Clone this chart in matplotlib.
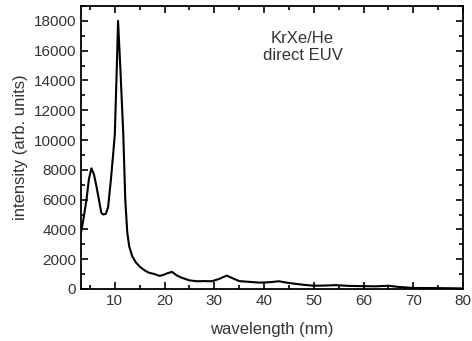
import numpy as np
import matplotlib
matplotlib.use("Agg")
import matplotlib.pyplot as plt
from matplotlib.ticker import MultipleLocator

# spectrum
wavelength = [3.2, 3.7, 4.3, 4.8, 5.3, 5.8, 6.3, 6.8, 7.3, 7.7, 8.2, 8.65, 9.2, 9.6,
              10.0, 10.4, 10.65, 11.1, 11.7, 12.1, 12.5, 12.9, 13.5, 14.2, 15.0, 16.0, 16.8, 18.0,
              19.0, 19.8, 20.5, 21.5, 22.5, 23.5, 25.0, 26.5, 28.0, 29.5, 31.0, 32.5,
              33.5, 35.0, 37.0, 39.0, 41.0, 43.0, 44.5, 46.0, 48.0, 50.0, 52.0, 54.5,
              57.0, 60.0, 62.5, 65.0, 67.0, 70.0, 75.0, 80.0]
intensity = [3800, 4700, 6000, 7400, 8100, 7700, 6900, 6000, 5100, 5000, 5050, 5500, 7300, 8800,
             10400, 14900, 18000, 14900, 10400, 6000, 3800, 2850, 2200, 1800, 1500, 1250, 1100, 1000,
             880, 950, 1050, 1150, 900, 750, 580, 520, 530, 520, 680, 900,
             750, 530, 480, 430, 450, 520, 430, 360, 280, 220, 230, 260,
             210, 190, 180, 220, 140, 70, 60, 40]

plt.rcParams['font.family'] = ['Liberation Sans', 'DejaVu Sans']
txt = '#333333'

fig = plt.figure(figsize=(4.72, 3.41), dpi=100)
ax = fig.add_axes([81/472, 1 - 289/341, (463-81)/472, (289-6)/341])

ax.plot(wavelength, intensity, color='black', lw=1.5)

ax.set_xlim(3.2, 80)
ax.set_ylim(0, 19000)
ax.xaxis.set_major_locator(MultipleLocator(10))
ax.xaxis.set_minor_locator(MultipleLocator(5))
ax.yaxis.set_major_locator(MultipleLocator(2000))
ax.yaxis.set_minor_locator(MultipleLocator(1000))
ax.tick_params(which='both', direction='in', top=True, right=True,
               labelsize=11, labelcolor=txt, width=1.2)
ax.tick_params(which='major', length=5)
ax.tick_params(which='minor', length=3)
ax.set_xticks([10, 20, 30, 40, 50, 60, 70, 80])
for s in ax.spines.values():
    s.set_linewidth(1.3)

ax.set_xlabel('wavelength (nm)', fontsize=12, color=txt, labelpad=10)
ax.set_ylabel('intensity (arb. units)', fontsize=12, color=txt, labelpad=4)

ax.text(0.58, 0.91, 'KrXe/He\ndirect EUV', transform=ax.transAxes,
        ha='center', va='top', fontsize=12, color=txt, linespacing=1.1)

fig.savefig('out.png', dpi=100)
